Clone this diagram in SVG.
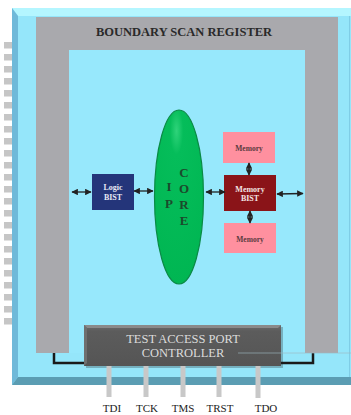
<svg xmlns="http://www.w3.org/2000/svg" width="351" height="415" viewBox="0 0 351 415">
<defs>
<marker id="ah" viewBox="0 0 10 10" refX="9" refY="5" markerWidth="6.5" markerHeight="6.5" orient="auto-start-reverse" markerUnits="userSpaceOnUse">
<path d="M0,0 L10,5 L0,10 z" fill="#222"/>
</marker>
<radialGradient id="gr" cx="0.45" cy="0.12" r="0.9">
<stop offset="0" stop-color="#2fd37a"/>
<stop offset="0.15" stop-color="#05bd5a"/>
<stop offset="1" stop-color="#00b652"/>
</radialGradient>
<linearGradient id="tapg" x1="0" y1="0" x2="0" y2="1">
<stop offset="0" stop-color="#6e6e6e"/>
<stop offset="0.15" stop-color="#5c5c5c"/>
<stop offset="1" stop-color="#555"/>
</linearGradient>
</defs>
<style>
.sq{fill:#c6c6c6}
.frame{fill:#a9a9ad}
.blue{fill:#97e8fc}
.lbl{font-family:"Liberation Serif",serif;font-weight:bold;text-anchor:middle}
.pin{fill:#c8c8c8}
.pt{font-family:"Liberation Serif",serif;font-size:11px;fill:#222;text-anchor:middle}
.arr{stroke:#222;stroke-width:1.3;fill:none;marker-start:url(#ah);marker-end:url(#ah)}
.wire{stroke:#1a1a1a;stroke-width:2.5;fill:none}
</style>
<rect width="351" height="415" fill="#fff"/>
<g id="pins-left">
<rect class="sq" x="4" y="42" width="8" height="6.5"/>
<rect class="sq" x="4" y="54" width="8" height="6.5"/>
<rect class="sq" x="4" y="66" width="8" height="6.5"/>
<rect class="sq" x="4" y="78" width="8" height="6.5"/>
<rect class="sq" x="4" y="90" width="8" height="6.5"/>
<rect class="sq" x="4" y="102" width="8" height="6.5"/>
<rect class="sq" x="4" y="114" width="8" height="6.5"/>
<rect class="sq" x="4" y="126" width="8" height="6.5"/>
<rect class="sq" x="4" y="138" width="8" height="6.5"/>
<rect class="sq" x="4" y="150" width="8" height="6.5"/>
<rect class="sq" x="4" y="162" width="8" height="6.5"/>
<rect class="sq" x="4" y="174" width="8" height="6.5"/>
<rect class="sq" x="4" y="186" width="8" height="6.5"/>
<rect class="sq" x="4" y="198" width="8" height="6.5"/>
<rect class="sq" x="4" y="210" width="8" height="6.5"/>
<rect class="sq" x="4" y="222" width="8" height="6.5"/>
<rect class="sq" x="4" y="234" width="8" height="6.5"/>
<rect class="sq" x="4" y="246" width="8" height="6.5"/>
<rect class="sq" x="4" y="258" width="8" height="6.5"/>
<rect class="sq" x="4" y="270" width="8" height="6.5"/>
<rect class="sq" x="4" y="282" width="8" height="6.5"/>
<rect class="sq" x="4" y="294" width="8" height="6.5"/>
<rect class="sq" x="4" y="306" width="8" height="6.5"/>
<rect class="sq" x="4" y="318" width="8" height="6.5"/>
</g>
<g id="chip">
<rect x="12" y="8" width="339" height="377" fill="#95e6fa"/>
<polygon points="12,8 351,8 351,16 18,16" fill="#b4f6ff"/>
<polygon points="12,8 18,16 18,377 12,385" fill="#6fb9d9"/>
<polygon points="12,385 18,377 351,377 351,385" fill="#5b9db3"/>
<line x1="349.5" y1="16" x2="349.5" y2="377" stroke="#7fcde6" stroke-width="1"/>
</g>
<g id="bsr">
<path class="frame" d="M36,17 H338 V353 H305 V50 H69 V353 H36 Z"/>
<rect class="blue" x="69" y="50" width="236" height="303"/>
<text class="lbl" x="184" y="36" font-size="12.5" fill="#2a2a2a">BOUNDARY SCAN REGISTER</text>
</g>
<g id="ip-core">
<ellipse cx="179" cy="197" rx="24.5" ry="87" fill="url(#gr)" stroke="#0a8a45" stroke-width="1.2"/>
<text class="lbl" x="169" y="191" font-size="13" fill="#1c4a2c">I</text>
<text class="lbl" x="169" y="208" font-size="13" fill="#1c4a2c">P</text>
<text class="lbl" x="184" y="177" font-size="13" fill="#1c4a2c">C</text>
<text class="lbl" x="184" y="193" font-size="13" fill="#1c4a2c">O</text>
<text class="lbl" x="184" y="209" font-size="13" fill="#1c4a2c">R</text>
<text class="lbl" x="184" y="225" font-size="13" fill="#1c4a2c">E</text>
</g>
<g id="logic-bist">
<rect x="92" y="174" width="42" height="36" fill="#24357a"/>
<text class="lbl" x="113" y="190" font-size="8" fill="#e8e8f4">Logic</text>
<text class="lbl" x="113" y="200" font-size="8" fill="#e8e8f4">BIST</text>
</g>
<g id="memory-bist">
<rect x="224" y="175" width="52" height="36" fill="#8a1418"/>
<text class="lbl" x="250" y="192" font-size="8" fill="#f2e4e4">Memory</text>
<text class="lbl" x="250" y="201" font-size="8" fill="#f2e4e4">BIST</text>
</g>
<g id="memory-top">
<rect x="223" y="132" width="52" height="31" fill="#ff909f"/>
<text class="lbl" x="249" y="151" font-size="7.5" fill="#5a3a3e">Memory</text>
</g>
<g id="memory-bottom">
<rect x="224" y="223" width="52" height="30" fill="#ff909f"/>
<text class="lbl" x="250" y="242" font-size="7.5" fill="#5a3a3e">Memory</text>
</g>
<g id="tap">
<rect x="86" y="327" width="197" height="41" fill="#3a4a50" opacity="0.35"/>
<rect x="84" y="325" width="197" height="41" fill="url(#tapg)"/>
<polygon points="84,325 281,325 278,328 87,328" fill="#8a8a8a"/>
<polygon points="84,325 87,328 87,363 84,366" fill="#6f6f6f"/>
<text class="lbl" x="183" y="343" font-size="12.5" fill="#dcdcdc" style="font-weight:normal">TEST ACCESS PORT</text>
<text class="lbl" x="183" y="357" font-size="12.5" fill="#dcdcdc" style="font-weight:normal">CONTROLLER</text>
</g>
<g id="connectors">
<line class="arr" x1="72" y1="192" x2="91" y2="192"/>
<line class="arr" x1="134" y1="191" x2="153" y2="191"/>
<line class="arr" x1="206" y1="192" x2="225" y2="192"/>
<line class="arr" x1="277" y1="194" x2="303" y2="193.5"/>
<line class="arr" x1="249" y1="163" x2="249" y2="175"/>
<line class="arr" x1="250" y1="211" x2="250" y2="223"/>
<path class="wire" d="M54,353 V363 H84"/>
<path class="wire" d="M281,363 H313 V353"/>
<line x1="238" y1="353" x2="351" y2="353" stroke="#9fb9c2" stroke-width="0.8" opacity="0.8"/>
</g>
<g id="jtag-pins">
<rect class="pin" x="106.5" y="366" width="5" height="31"/>
<rect class="pin" x="143.5" y="366" width="5" height="31"/>
<rect class="pin" x="180.5" y="366" width="5" height="31"/>
<rect class="pin" x="216.5" y="366" width="5" height="31"/>
<rect class="pin" x="255.5" y="366" width="5" height="32"/>
<text class="pt" x="112" y="412">TDI</text>
<text class="pt" x="147" y="412">TCK</text>
<text class="pt" x="183" y="412">TMS</text>
<text class="pt" x="220" y="412">TRST</text>
<text class="pt" x="266" y="412">TDO</text>
</g>
</svg>
